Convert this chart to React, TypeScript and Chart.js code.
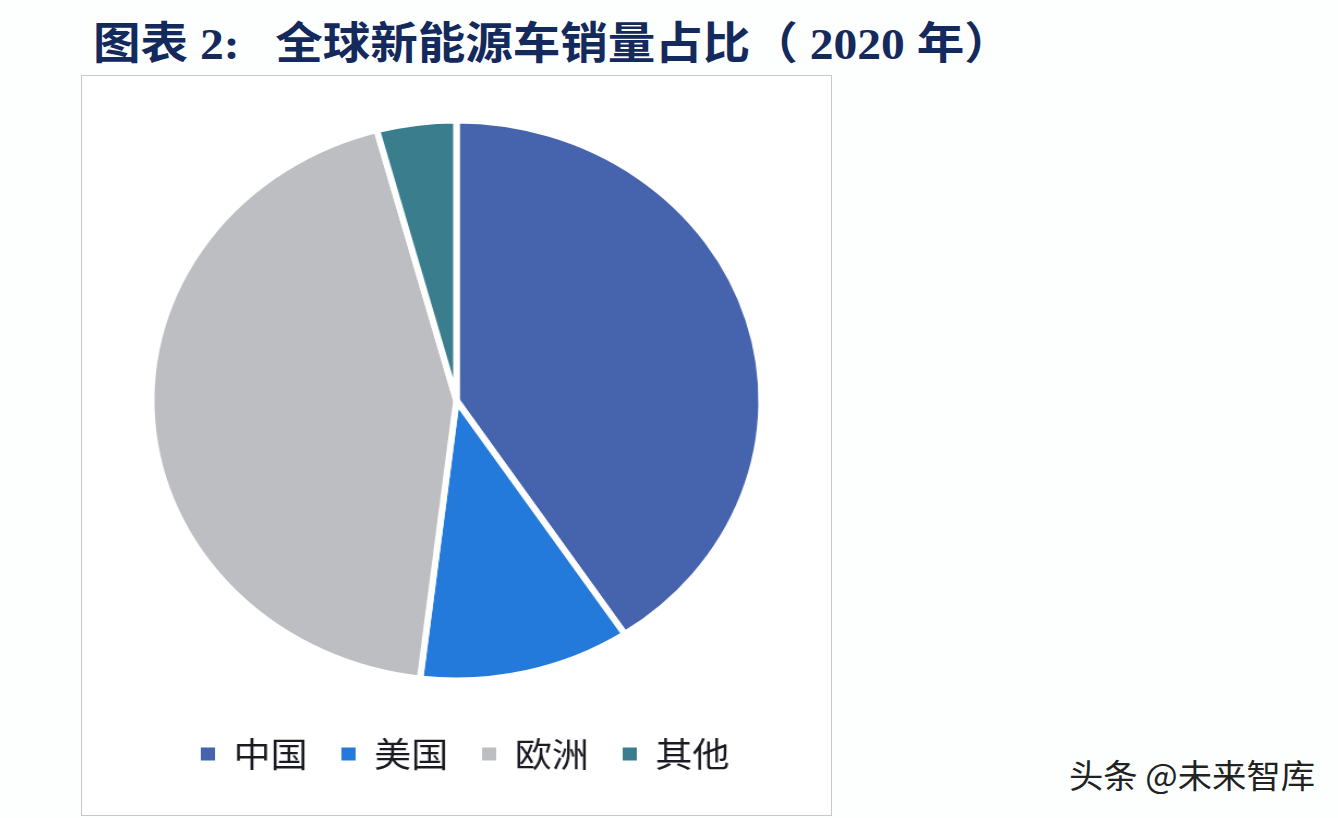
import React, { useRef, useEffect } from "react";
import { Chart, registerables } from "chart.js";

Chart.register(...registerables);

const regions = ["中国", "美国", "欧洲", "其他"];
const shares = [40.7, 11.2, 43.9, 4.2];
const sliceColors = ["#4664ae", "#247ada", "#bdbec1", "#3a7d8c"];

const titleText = "图表 2:   全球新能源车销量占比（ 2020 年）";
const watermark = "头条 @未来智库";

// the reference picture is stretched sideways, so the round pie comes out as an ellipse
const stretchX = 1.09;

// legend sits a little right of the pie in the reference
const legendShift = {
  id: "legendShift",
  afterLayout(chart: any) {
    chart.legend.left += 8;
    chart.legend.right += 8;
  },
};

const App = () => {
  const chartRef = useRef<HTMLCanvasElement>(null);

  useEffect(() => {
    if (!chartRef.current) return;
    const chart = new Chart(chartRef.current, {
      type: "pie",
      data: {
        labels: regions,
        datasets: [
          {
            data: shares,
            backgroundColor: sliceColors,
            borderColor: "#ffffff",
            borderWidth: 6,
            radius: 280,
          },
        ],
      },
      options: {
        responsive: false,
        animation: false,
        layout: { padding: { top: 18, bottom: 33 } },
        plugins: {
          title: { display: false },
          tooltip: { enabled: false },
          legend: {
            position: "bottom",
            labels: {
              boxWidth: 13,
              boxHeight: 13,
              padding: 31,
              color: "#1a1a22",
              font: { family: "'Noto Sans CJK SC'", size: 34 },
              generateLabels: (c: any) =>
                Chart.overrides.pie.plugins.legend.labels
                  .generateLabels(c)
                  .map((item: any) => ({ ...item, lineWidth: 0 })),
            },
          },
        },
      },
      plugins: [legendShift],
    });
    return () => chart.destroy();
  }, []);

  return (
    <div style={{ position: "fixed", left: 0, top: 0, width: 1338, height: 818, background: "#fdfefe", overflow: "hidden" }}>
      <div
        style={{
          position: "absolute",
          left: 93,
          top: 16,
          whiteSpace: "pre",
          fontFamily: "'Liberation Serif', 'Noto Sans CJK SC'",
          fontWeight: "bold",
          fontSize: 44,
          lineHeight: "58px",
          color: "#14295c",
          transform: "scaleX(1.08)",
          transformOrigin: "0 0",
        }}
      >
        {titleText}
      </div>
      <div
        style={{
          position: "absolute",
          left: 81,
          top: 75,
          width: 749,
          height: 739,
          border: "1.5px solid #c6c8cc",
          background: "#ffffff",
        }}
      />
      <div style={{ position: "absolute", left: 82, top: 77, transform: `scaleX(${stretchX})`, transformOrigin: "0 0" }}>
        <canvas ref={chartRef} width={687} height={737} style={{ display: "block" }}></canvas>
      </div>
      <div
        style={{
          position: "absolute",
          left: 1069,
          top: 754,
          whiteSpace: "pre",
          fontFamily: "'Noto Sans CJK SC'",
          fontSize: 33,
          lineHeight: "40px",
          color: "#222222",
          transform: "scaleX(1.04)",
          transformOrigin: "0 0",
        }}
      >
        {watermark}
      </div>
    </div>
  );
};

export default App;
